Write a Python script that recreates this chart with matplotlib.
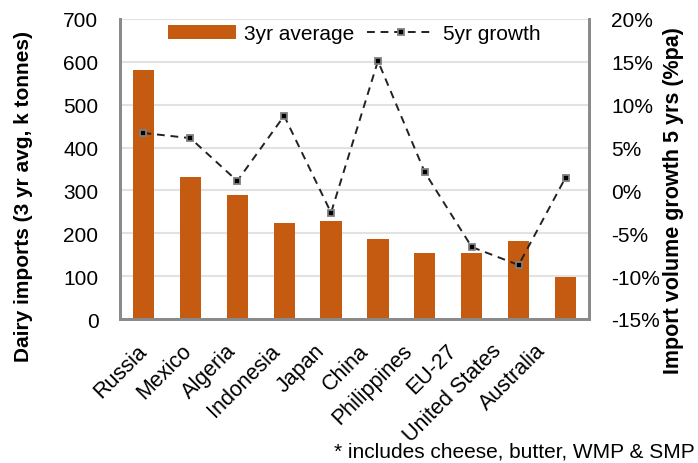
import matplotlib
matplotlib.use("Agg")
import matplotlib.pyplot as plt
import matplotlib.transforms as mtransforms
from matplotlib.lines import Line2D
from matplotlib.patches import Patch

plt.rcParams['font.family'] = ['Liberation Sans', 'DejaVu Sans']

countries = ["Russia", "Mexico", "Algeria", "Indonesia", "Japan", "China",
             "Philippines", "EU-27", "United States", "Australia"]
avg_3yr = [580, 331, 289, 223, 228, 186, 153, 153, 181, 97]
growth_5yr = [6.7, 6.1, 1.1, 8.7, -2.6, 15.1, 2.1, -6.6, -8.7, 1.5]
left_ticks = list(range(0, 701, 100))
right_ticks = list(range(-15, 21, 5))

bar_color = "#C55A11"
spine_color = "#8a8a8a"
W, H = 698, 464

fig = plt.figure(figsize=(W / 100, H / 100), dpi=100)
ax = fig.add_axes([120 / W, 1 - 320 / H, 469 / W, 300 / H])
x = list(range(len(countries)))
ax.bar(x, avg_3yr, width=0.45, color=bar_color, zorder=2)
ax.set_ylim(0, 700)
ax.set_yticks(left_ticks)
ax.set_xlim(-0.5, len(countries) - 0.5)
ax.grid(axis='y', color="#e2e2e2", linewidth=1.5, zorder=0)
ax.set_axisbelow(True)
ax.set_xticks(x)
ax.set_xticklabels(countries, rotation=45, ha='right', va='top',
                   rotation_mode='anchor', fontsize=15.5)
ax.tick_params(axis='x', length=0, pad=15)
ax.tick_params(axis='y', length=0, labelsize=15, pad=15.5)
# category labels sit on a slightly tighter pitch than the bars
for i, lbl in enumerate(ax.get_xticklabels()):
    shift = mtransforms.ScaledTranslation(-0.026 * i - 0.07, 0, fig.dpi_scale_trans)
    lbl.set_transform(lbl.get_transform() + shift)
for s in ['left', 'bottom', 'right']:
    ax.spines[s].set_color(spine_color)
    ax.spines[s].set_linewidth(2)
ax.spines['top'].set_visible(False)

ax2 = ax.twinx()
ax2.plot(x, growth_5yr, linestyle=(0, (4, 3)), color="#222222", linewidth=1.4,
         marker='s', markersize=5, markerfacecolor='black',
         markeredgecolor='#7f7f7f', markeredgewidth=1.3, zorder=3)
ax2.set_ylim(-15, 20)
ax2.set_yticks(right_ticks)
ax2.set_yticklabels([f"{v}%" for v in right_ticks])
ax2.tick_params(axis='y', length=0, labelsize=15, pad=16)
for s in ['left', 'bottom', 'right']:
    ax2.spines[s].set_color(spine_color)
    ax2.spines[s].set_linewidth(2)
ax2.spines['top'].set_visible(False)

# axis titles
fig.text(24 / W, 1 - 197 / H, "Dairy imports (3 yr avg, k tonnes)", rotation=90,
         ha='center', va='center', fontsize=15, fontweight='bold')
fig.text(674 / W, 1 - 201 / H, "Import volume growth 5 yrs (%pa)", rotation=90,
         ha='center', va='center', fontsize=15.5, fontweight='bold')

handles = [Patch(facecolor=bar_color, edgecolor='none'),
           Line2D([0], [0], linestyle=(0, (4, 3)), color="#222222", linewidth=1.4,
                  marker='s', markersize=5, markerfacecolor='black',
                  markeredgecolor='#7f7f7f', markeredgewidth=1.3)]
leg = ax2.legend(handles, ["3yr average", "5yr growth"], loc='center',
                 bbox_to_anchor=(0.5, (320 - 35) / 300), ncol=2, frameon=True,
                 fontsize=15, handlelength=3.25, handleheight=0.7,
                 columnspacing=0.6, handletextpad=0.4, borderpad=0.1)
leg.get_frame().set_facecolor('white')
leg.get_frame().set_edgecolor('none')
leg.get_frame().set_alpha(1)
leg.set_zorder(5)

fig.text(695 / W, 1 - 452 / H, "* includes cheese, butter, WMP & SMP", ha='right',
         va='center', fontsize=15)

fig.savefig("out.png", dpi=100)
